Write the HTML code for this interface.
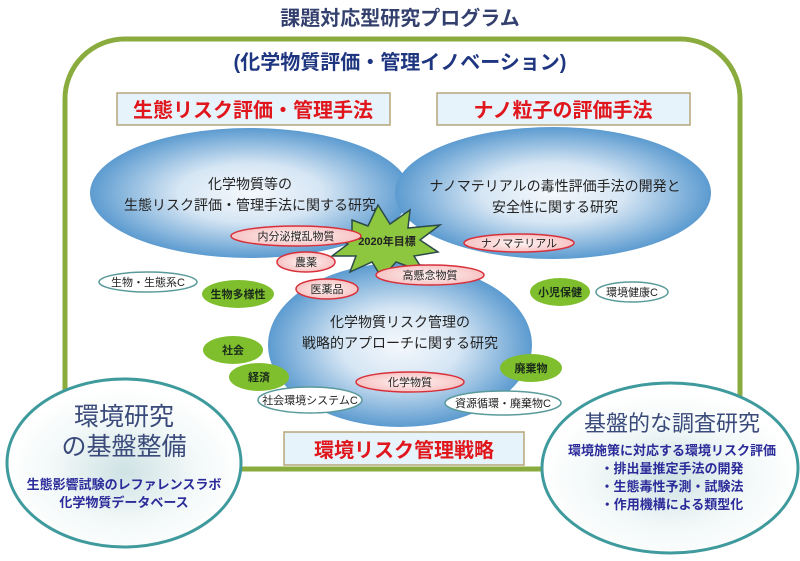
<!DOCTYPE html>
<html><head><meta charset="utf-8"><style>
html,body{margin:0;padding:0;background:#fff;width:800px;height:561px;overflow:hidden}
svg{display:block}
text{font-family:"Liberation Sans","Noto Sans CJK JP",sans-serif;text-anchor:middle}
</style></head><body>
<svg width="800" height="561" viewBox="0 0 800 561" xmlns="http://www.w3.org/2000/svg">
<defs>
<radialGradient id="bl" cx="50%" cy="50%" r="50%"><stop offset="0" stop-color="#f4f8fc"/><stop offset="0.45" stop-color="#d6e6f4"/><stop offset="1" stop-color="#5c9bd0"/></radialGradient>
<radialGradient id="tl" cx="50%" cy="55%" r="50%"><stop offset="0" stop-color="#cfe2e4"/><stop offset="0.6" stop-color="#f2f8f8"/><stop offset="1" stop-color="#ffffff"/></radialGradient>
<radialGradient id="pk" cx="50%" cy="50%" r="50%"><stop offset="0" stop-color="#fff4f4"/><stop offset="1" stop-color="#f7c4c4"/></radialGradient>
</defs>
<text x="400" y="25" font-size="20" font-weight="bold" fill="#33406e">課題対応型研究プログラム</text>
<rect x="65" y="39" width="675" height="430" rx="60" fill="#fff" stroke="#8aab3e" stroke-width="5"/>
<rect x="68" y="42" width="669" height="424" rx="57" fill="none" stroke="#fff" stroke-width="1"/>
<text x="400" y="69" font-size="20" font-weight="bold" fill="#1e3580">(化学物質評価・管理イノベーション)</text>
<rect x="117" y="93" width="273" height="32" fill="#e6f3fb" stroke="#b5a67a" stroke-width="1.5"/>
<text x="253" y="117" font-size="20" font-weight="bold" fill="#e0161c">生態リスク評価・管理手法</text>
<rect x="437" y="93" width="253" height="32" fill="#e6f3fb" stroke="#b5a67a" stroke-width="1.5"/>
<text x="563" y="117" font-size="20" font-weight="bold" fill="#e0161c">ナノ粒子の評価手法</text>
<ellipse cx="250" cy="193" rx="160" ry="65" fill="url(#bl)"/>
<ellipse cx="553" cy="193" rx="158" ry="66" fill="url(#bl)"/>
<ellipse cx="400" cy="345" rx="132" ry="82" fill="url(#bl)"/>
<text x="250" y="189" font-size="14" fill="#222">化学物質等の</text>
<text x="250" y="210" font-size="14" fill="#222">生態リスク評価・管理手法に関する研究</text>
<text x="555" y="191" font-size="14" fill="#222">ナノマテリアルの毒性評価手法の開発と</text>
<text x="555" y="212" font-size="14" fill="#222">安全性に関する研究</text>
<text x="400" y="327" font-size="14" fill="#222">化学物質リスク管理の</text>
<text x="400" y="348" font-size="14" fill="#222">戦略的アプローチに関する研究</text>
<polygon points="352,220 368,226 378,205 390,224 410,210 408,228 440,225 420,240 438,252 414,256 424,272 396,262 382,278 372,262 350,272 356,256 332,256 348,244 326,232 352,232" fill="#8dc63f" stroke="#2c4a4a" stroke-width="1.5"/>
<text x="387" y="245" font-size="11" font-weight="bold" fill="#222">2020年目標</text>
<g stroke="#d8303a" stroke-width="1.5" fill="url(#pk)">
<ellipse cx="296" cy="236" rx="65" ry="10"/>
<ellipse cx="306" cy="262" rx="29" ry="10"/>
<ellipse cx="519" cy="243" rx="55" ry="9"/>
<ellipse cx="430" cy="275" rx="54" ry="10"/>
<ellipse cx="327" cy="289" rx="31" ry="10"/>
<ellipse cx="410" cy="382" rx="54" ry="10"/>
</g>
<g font-size="11" fill="#222">
<text x="296" y="240">内分泌撹乱物質</text>
<text x="306" y="266">農薬</text>
<text x="519" y="247">ナノマテリアル</text>
<text x="430" y="279">高懸念物質</text>
<text x="327" y="293">医薬品</text>
<text x="410" y="386">化学物質</text>
</g>
<g stroke="#5a9a9a" stroke-width="1.5" fill="#fff">
<ellipse cx="148" cy="282" rx="49" ry="10"/>
<ellipse cx="632" cy="292" rx="36" ry="10"/>
<ellipse cx="310" cy="400" rx="52" ry="13"/>
<ellipse cx="503" cy="403" rx="58" ry="12"/>
</g>
<g font-size="11" fill="#222">
<text x="148" y="286">生物・生態系C</text>
<text x="632" y="296">環境健康C</text>
<text x="310" y="404">社会環境システムC</text>
<text x="503" y="407">資源循環・廃棄物C</text>
</g>
<g fill="#7fbf2e">
<ellipse cx="238" cy="294" rx="36" ry="14"/>
<ellipse cx="560" cy="292" rx="30" ry="14"/>
<ellipse cx="233" cy="350" rx="30" ry="14"/>
<ellipse cx="259" cy="377" rx="30" ry="14"/>
<ellipse cx="531" cy="368" rx="31" ry="14"/>
</g>
<g font-size="11" font-weight="bold" fill="#1a2a1a">
<text x="238" y="298">生物多様性</text>
<text x="560" y="296">小児保健</text>
<text x="233" y="354">社会</text>
<text x="259" y="381">経済</text>
<text x="531" y="372">廃棄物</text>
</g>
<rect x="284" y="432" width="240" height="33" fill="#e6f3fb" stroke="#b5a67a" stroke-width="1.5"/>
<text x="404" y="457" font-size="20" font-weight="bold" fill="#e0161c">環境リスク管理戦略</text>
<ellipse cx="124" cy="463" rx="117" ry="84" fill="url(#tl)" stroke="#3e9a9c" stroke-width="3"/>
<text x="124" y="425" font-size="25" fill="#3a4a7a">環境研究</text>
<text x="124" y="455" font-size="25" fill="#3a4a7a">の基盤整備</text>
<text x="124" y="489" font-size="13" font-weight="bold" fill="#2b2b9a">生態影響試験のレファレンスラボ</text>
<text x="124" y="507" font-size="13" font-weight="bold" fill="#2b2b9a">化学物質データベース</text>
<ellipse cx="670" cy="468" rx="128" ry="85" fill="url(#tl)" stroke="#3e9a9c" stroke-width="3"/>
<text x="672" y="431" font-size="22" fill="#3a4a7a">基盤的な調査研究</text>
<text x="672" y="455" font-size="13" font-weight="bold" fill="#2b2b9a">環境施策に対応する環境リスク評価</text>
<text x="672" y="473" font-size="13" font-weight="bold" fill="#2b2b9a">・排出量推定手法の開発</text>
<text x="672" y="491" font-size="13" font-weight="bold" fill="#2b2b9a">・生態毒性予測・試験法</text>
<text x="672" y="509" font-size="13" font-weight="bold" fill="#2b2b9a">・作用機構による類型化</text>
</svg>
</body></html>
